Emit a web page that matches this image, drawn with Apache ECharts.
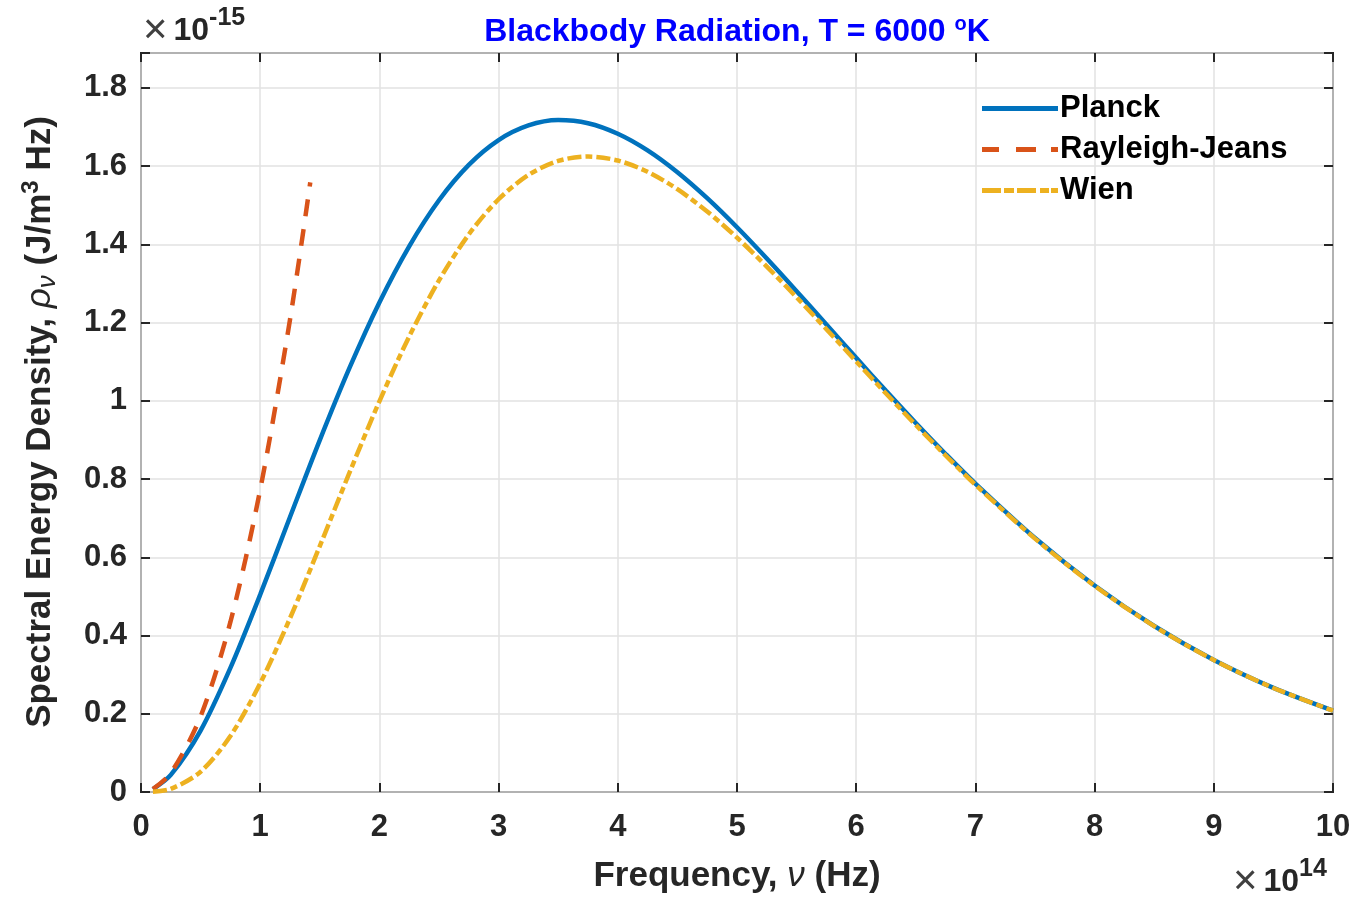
<!DOCTYPE html>
<html><head><meta charset="utf-8">
<script src="https://cdn.jsdelivr.net/npm/echarts@6/dist/echarts.min.js"></script>
<style>html,body{margin:0;padding:0;background:#fff}#c{width:1356px;height:900px}</style>
</head><body><div id="c"></div>
<script>
// Frequency in units of 1e14 Hz, energy density in units of 1e-15 J/(m^3 Hz)
const freq = [0.1,0.25,0.5,0.75,1,1.25,1.5,1.75,2,2.25,2.5,2.75,3,3.25,3.5,3.75,4,4.25,4.5,4.75,5,5.25,5.5,5.75,6,6.25,6.5,6.75,7,7.5,8,8.5,9,9.5,10];
const planck = [0.0074,0.0436,0.1571,0.3173,0.5045,0.7029,0.8996,1.0847,1.2515,1.3950,1.5127,1.6030,1.6664,1.7038,1.7177,1.7096,1.6827,1.6401,1.5842,1.5178,1.4435,1.3636,1.2802,1.1950,1.1097,1.0254,0.9433,0.8641,0.7884,0.6493,0.5279,0.4243,0.3375,0.2661,0.2080];
const wien = [0.0006,0.0079,0.0518,0.1431,0.2778,0.4442,0.6285,0.8171,0.9987,1.1643,1.3078,1.4253,1.5151,1.5772,1.6131,1.6244,1.6141,1.5853,1.5408,1.4838,1.4170,1.3431,1.2644,1.1830,1.1006,1.0185,0.9381,0.8602,0.7855,0.6477,0.5270,0.4238,0.3373,0.2659,0.2079];
const rjFreq = [0.1,0.25,0.5,0.75,1,1.25,1.42];
const rayleighJeans = [0.0077,0.0483,0.1932,0.4347,0.7728,1.2075,1.5583];
const seriesNames = ['Planck','Rayleigh-Jeans','Wien'];
const xTicks = [0,1,2,3,4,5,6,7,8,9,10];
const yMax = 1.889;

const FF = '"Liberation Sans", Arial, Helvetica, sans-serif';
const TXT = '#262626';
const pairs = (xs, ys) => xs.map((x, i) => [x, ys[i]]);
const colors = ['#0072BD', '#D95319', '#EDB120'];
const legendIcons = [
  'path://M0,0H76V5H0Z',
  'path://M0,0H17V5H0Z M34,0H54V5H34Z M69,0H76V5H69Z',
  'path://M0,0H19V5H0Z M22,0H32V5H22Z M35,0H54V5H35Z M58,0H67V5H58Z M69,0H76V5H69Z'
];

const chart = echarts.init(document.getElementById('c'));
const tickStyle = {inside: true, length: 9, lineStyle: {color: TXT, width: 2}};
const noLine = {show: false, onZero: false};
const labelStyle = {color: TXT, fontSize: 31, fontWeight: 'bold', fontFamily: FF};
const expRich = {
  x: {fontSize: 42, fontFamily: FF, fill: '#404040', lineHeight: 50, padding: [0, 6, 0, 0]},
  a: {fontSize: 32, fontWeight: 'bold', fontFamily: FF, fill: TXT, lineHeight: 50},
  s: {fontSize: 25, fontWeight: 'bold', fontFamily: FF, fill: TXT, lineHeight: 25, verticalAlign: 'top'}
};
chart.setOption({
  animation: false,
  backgroundColor: '#fff',
  grid: {left: 141, top: 53, width: 1192, height: 739, show: true, borderColor: TXT, borderWidth: 2, backgroundColor: 'transparent'},
  xAxis: [
    {type: 'value', min: xTicks[0], max: xTicks[xTicks.length-1], interval: 1, position: 'bottom',
     axisLine: noLine, axisTick: tickStyle,
     axisLabel: Object.assign({margin: 20}, labelStyle),
     splitLine: {show: true, lineStyle: {color: '#e2e2e2', width: 1.5}}},
    {type: 'value', min: xTicks[0], max: xTicks[xTicks.length-1], interval: 1, position: 'top',
     axisLine: noLine, axisTick: tickStyle, axisLabel: {show: false}, splitLine: {show: false}}
  ],
  yAxis: [
    {type: 'value', min: 0, max: yMax, interval: 0.2, position: 'left',
     axisLine: noLine, axisTick: tickStyle,
     axisLabel: Object.assign({margin: 14, showMaxLabel: true, formatter: v => {
       const k = v * 5; if (Math.abs(k - Math.round(k)) > 1e-6) return '';
       return String(+v.toFixed(1));
     }}, labelStyle),
     splitLine: {show: true, lineStyle: {color: '#e2e2e2', width: 1.5}}},
    {type: 'value', min: 0, max: yMax, interval: 0.2, position: 'right',
     axisLine: noLine, axisTick: tickStyle, axisLabel: {show: false}, splitLine: {show: false}}
  ],
  legend: {
    data: seriesNames.map((n, i) => ({name: n, icon: legendIcons[i], itemStyle: {color: colors[i], borderWidth: 0}})),
    orient: 'vertical', left: 977, top: 88,
    itemWidth: 76, itemHeight: 5, itemGap: 10,
    textStyle: {color: '#000', fontSize: 31, fontWeight: 'bold', fontFamily: FF, padding: [0,0,0,-3]}
  },
  series: [
    {name: seriesNames[0], type: 'line', data: pairs(freq, planck), smooth: 0.3, symbol: 'none',
     lineStyle: {color: colors[0], width: 4.5}, itemStyle: {color: colors[0]}, z: 2},
    {name: seriesNames[1], type: 'line', data: pairs(rjFreq, rayleighJeans), smooth: 0.3, symbol: 'none',
     lineStyle: {color: colors[1], width: 4.5, type: [17, 13]}, itemStyle: {color: colors[1]}, z: 3},
    {name: seriesNames[2], type: 'line', data: pairs(freq, wien), smooth: 0.3, symbol: 'none',
     lineStyle: {color: colors[2], width: 4.5, type: [14, 4, 7, 4]}, itemStyle: {color: colors[2]}, z: 4}
  ],
  graphic: [
    {type: 'text', x: 737, y: 32, style: {
      text: '{a|Blackbody Radiation, T = 6000 }{s|o}{a|K}', textAlign: 'center', textVerticalAlign: 'middle',
      rich: {a: {fontSize: 32, fontWeight: 'bold', fontFamily: FF, fill: '#0000ff', lineHeight: 36},
             s: {fontSize: 20, fontWeight: 'bold', fontFamily: FF, fill: '#0000ff', lineHeight: 20, verticalAlign: 'top'}}}},
    {type: 'text', x: 143, y: 31, style: {
      text: '{x|×}{a|10}{s|-15}', textAlign: 'left', textVerticalAlign: 'middle', rich: expRich}},
    {type: 'text', x: 1233, y: 882, style: {
      text: '{x|×}{a|10}{s|14}', textAlign: 'left', textVerticalAlign: 'middle', rich: expRich}},
    {type: 'text', x: 737, y: 876, style: {
      text: '{a|Frequency, }{i|ν}{a| (Hz)}', textAlign: 'center', textVerticalAlign: 'middle',
      rich: {a: {fontSize: 35, fontWeight: 'bold', fontFamily: FF, fill: TXT, lineHeight: 40},
             i: {fontSize: 35, fontStyle: 'italic', fontFamily: FF, fill: TXT, lineHeight: 40}}}},
    {type: 'text', x: 40, y: 422, rotation: Math.PI / 2, style: {
      text: '{a|Spectral Energy Density, }{i|ρ}{sub|ν}{a| (J/m}{sup|3}{a| Hz)}', textAlign: 'center', textVerticalAlign: 'middle',
      rich: {a: {fontSize: 35, fontWeight: 'bold', fontFamily: FF, fill: TXT, lineHeight: 42},
             i: {fontSize: 35, fontStyle: 'italic', fontFamily: FF, fill: TXT, lineHeight: 42},
             sub: {fontSize: 26, fontStyle: 'italic', fontFamily: FF, fill: TXT, lineHeight: 26, verticalAlign: 'bottom'},
             sup: {fontSize: 24, fontWeight: 'bold', fontFamily: FF, fill: TXT, lineHeight: 24, verticalAlign: 'top'}}}}
  ]
});
</script></body></html>
